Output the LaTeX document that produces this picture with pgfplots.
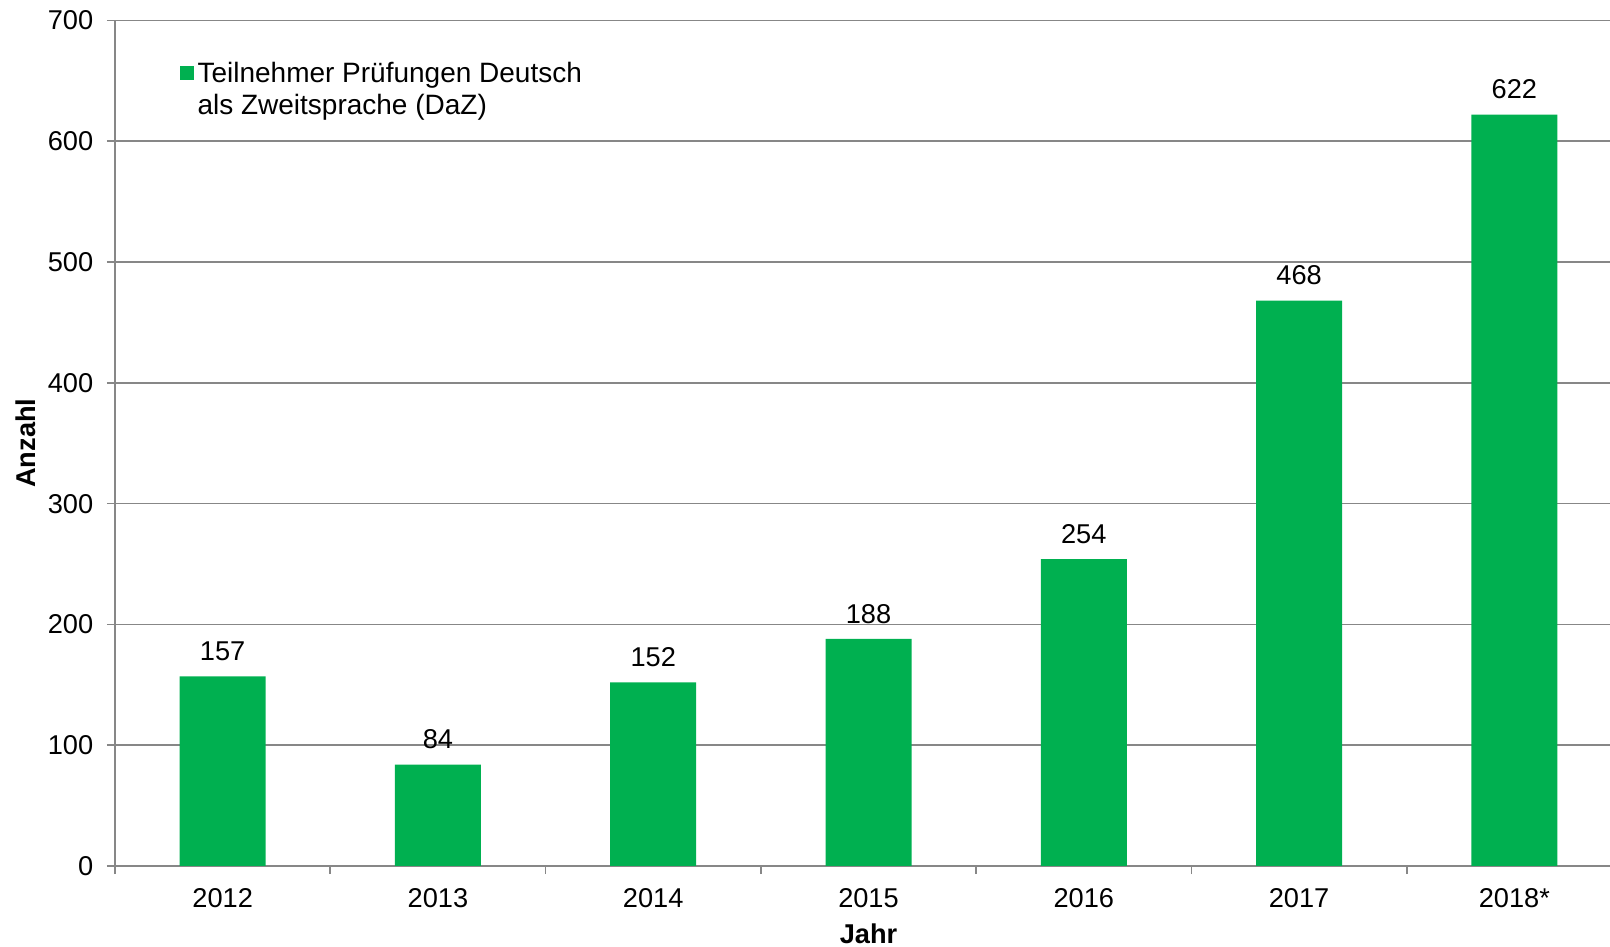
\documentclass[border=0pt]{standalone}
\usepackage{pgfplots}
\pgfplotsset{compat=1.18}
\usepackage{fontspec}
\setmainfont{Liberation Sans}
\definecolor{bargreen}{HTML}{00B050}
\definecolor{gridgray}{HTML}{878787}
\begin{document}
\begin{tikzpicture}
\begin{axis}[
  at={(57.5bp,40.5bp)}, anchor=south west,
  scale only axis, width=753.5bp, height=422.75bp,
  xmin=-0.5, xmax=6.5, ymin=0, ymax=700,
  axis x line*=bottom, axis y line*=left,
  axis line style={draw=gridgray, line width=0.9bp, -},
  ymajorgrids, grid style={draw=gridgray, line width=0.8bp},
  ytick={0,100,...,700},
  xtick={-0.5,0.5,...,6.5}, xticklabels={},
  extra x ticks={0,1,2,3,4,5,6},
  extra x tick labels={2012,2013,2014,2015,2016,2017,2018*},
  extra x tick style={major tick length=0pt, grid=none,
    xticklabel style={yshift=-7.7bp}},
  tick align=outside, major tick length=4bp,
  tick style={draw=gridgray, line width=0.8bp},
  /pgf/number format/assume math mode=true,
  ticklabel style={font=\fontsize{13.6bp}{16bp}\selectfont},
  yticklabel style={xshift=-3.4bp},
  label style={font=\fontsize{13.6bp}{16bp}\selectfont\bfseries},
  xlabel={Jahr}, ylabel={Anzahl},
  xlabel style={at={(axis description cs:0.5,-0.0805)}, anchor=center, inner sep=0pt},
  ylabel style={at={(axis description cs:-0.0591,0.5)}, anchor=center},
  ybar, bar width=43bp,
  nodes near coords,
  every node near coord/.append style={font=\fontsize{13.6bp}{16bp}\selectfont, anchor=south, yshift=4.3bp, text=black},
  legend style={at={(0.039,0.961)}, anchor=north west, draw=none, fill=none,
    font=\fontsize{14bp}{16bp}\selectfont, cells={align=left}},
  legend image code/.code={\fill[bargreen] (0bp,4.9bp) rectangle (6.7bp,11.6bp);},
]
\addplot[fill=bargreen, draw=none] coordinates {
  (0,157) (1,84) (2,152) (3,188) (4,254) (5,468) (6,622)
};
\addlegendentry{Teilnehmer Prüfungen Deutsch\\als Zweitsprache (DaZ)}
\end{axis}
\pgfresetboundingbox
\useasboundingbox (0,0) rectangle (805bp,473.5bp);
\end{tikzpicture}
\end{document}
